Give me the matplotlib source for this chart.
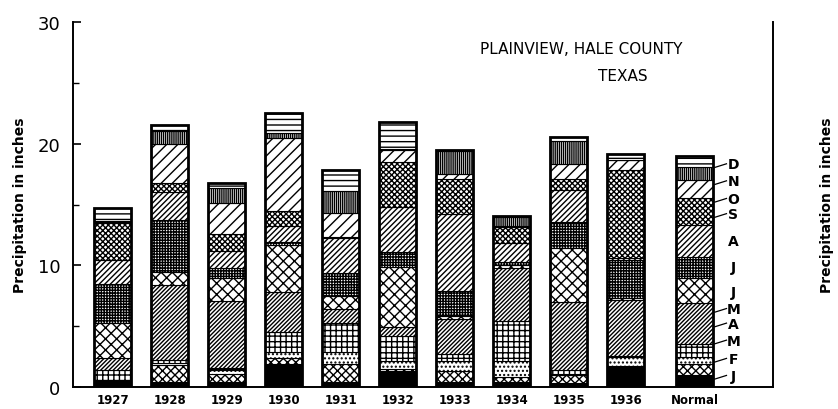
import numpy as np
import matplotlib.pyplot as plt
from matplotlib.ticker import MultipleLocator

# years and monthly precipitation (inches), last column = Normal
years = ['1927', '1928', '1929', '1930', '1931', '1932', '1933', '1934', '1935', '1936', 'Normal']

jan = [0.5, 0.4, 0.4, 1.9, 0.4, 1.35, 0.4, 0.4, 0.3, 1.65, 1.0]
feb = [0.05, 1.4, 0.7, 0.5, 1.5, 0.1, 0.95, 0.4, 0.7, 0.1, 0.9]
mar = [0.05, 0.2, 0.3, 0.45, 0.95, 0.7, 0.8, 1.3, 0.1, 0.7, 0.6]
apr = [0.8, 0.2, 0.2, 1.65, 2.45, 2.05, 0.6, 3.3, 0.3, 0.1, 1.0]
may = [1.0, 6.15, 5.5, 3.3, 1.1, 0.7, 2.85, 4.4, 5.6, 4.6, 3.4]
jun = [2.9, 1.1, 1.9, 3.85, 1.1, 5.0, 0.25, 0.2, 4.4, 0.2, 2.1]
jul = [3.2, 4.25, 0.8, 0.25, 1.9, 1.2, 2.05, 0.25, 2.2, 3.05, 1.7]
aug = [1.9, 2.3, 1.35, 1.35, 2.85, 3.7, 6.3, 1.6, 2.6, 0.2, 2.6]
sep = [3.1, 0.8, 1.4, 1.25, 0.05, 3.7, 2.9, 1.3, 0.9, 7.25, 2.2]
octo = [0.1, 3.15, 2.6, 6.0, 2.0, 0.95, 0.4, 0.1, 1.2, 0.8, 1.5]
nov = [0.05, 1.1, 1.25, 0.4, 1.8, 0.1, 1.9, 0.75, 1.9, 0.05, 1.1]
dec = [1.05, 0.5, 0.4, 1.65, 1.7, 2.2, 0.1, 0.05, 0.35, 0.45, 0.9]

months = [jan, feb, mar, apr, may, jun, jul, aug, sep, octo, nov, dec]
month_letters = ['J', 'F', 'M', 'A', 'M', 'J', 'J', 'A', 'S', 'O', 'N', 'D']
# label heights next to the Normal bar
letter_y = [0.9, 2.3, 3.8, 5.2, 6.4, 7.8, 9.9, 12.0, 14.2, 15.45, 16.9, 18.3]
leader = [True, True, True, True, True, False, False, False, True, True, True, True]

# pattern for each month
faces = ['black'] + ['white'] * 11
hatches = [None, 'xxxx', '....', '+++', '////////', 'xxx', '++++++',
           '//////', 'xxxxxx', '///', '||||||||', '---']

plt.rcParams['hatch.linewidth'] = 1.0
plt.rcParams['font.family'] = 'DejaVu Sans'

fig = plt.figure(figsize=(8.38, 4.10), dpi=100)
ax = fig.add_axes([0.087, 0.0537, 0.835, 0.890])

x = np.arange(len(years)).astype(float)
x[-1] = 10.21
w = 0.65

bottom = np.zeros(len(years))
for vals, fc, h in zip(months, faces, hatches):
    vals = np.array(vals)
    ax.bar(x, vals, w, bottom=bottom, color=fc, edgecolor='black',
           hatch=h, linewidth=0.8)
    bottom += vals

# heavy outline around each bar
ax.bar(x, bottom, w, fill=False, edgecolor='black', linewidth=2.0)

# month letters beside the Normal bar
for lab, ly, ld in zip(month_letters, letter_y, leader):
    ax.text(x[-1] + 0.68, ly, lab, fontsize=10, fontweight='bold',
            ha='center', va='center')
    if ld:
        ax.plot([x[-1] + w / 2 + 0.03, x[-1] + 0.56], [ly - 0.25, ly + 0.05],
                color='black', linewidth=0.9)

ax.text(10.0, 27.8, 'PLAINVIEW, HALE COUNTY', fontsize=11, ha='right', va='center')
ax.text(8.95, 25.6, 'TEXAS', fontsize=11, ha='center', va='center')

ax.set_xlim(-0.70, 11.58)
ax.set_ylim(0, 30)
ax.set_xticks(x)
ax.set_xticklabels(years, fontsize=8.5, fontweight='bold')
ax.tick_params(axis='x', length=0, pad=4)
ax.set_yticks([0, 10, 20, 30])
ax.yaxis.set_minor_locator(MultipleLocator(5))
ax.tick_params(axis='y', which='both', direction='in', left=True, right=True,
               labelleft=True, labelright=True, labelsize=13, pad=9)
ax.tick_params(axis='y', which='major', length=6, width=1.2)
ax.tick_params(axis='y', which='minor', length=4, width=1.0)
ax.spines['top'].set_visible(False)
for s in ['left', 'right', 'bottom']:
    ax.spines[s].set_linewidth(1.4)

ax.set_ylabel('Precipitation in inches', fontsize=10, fontweight='bold', labelpad=8)
ax2 = ax.twinx()
ax2.set_ylim(0, 30)
ax2.set_yticks([])
for s in ax2.spines.values():
    s.set_visible(False)
ax2.set_ylabel('Precipitation in inches', fontsize=10, fontweight='bold',
               rotation=90, labelpad=34)

fig.savefig('out.png', dpi=100)
